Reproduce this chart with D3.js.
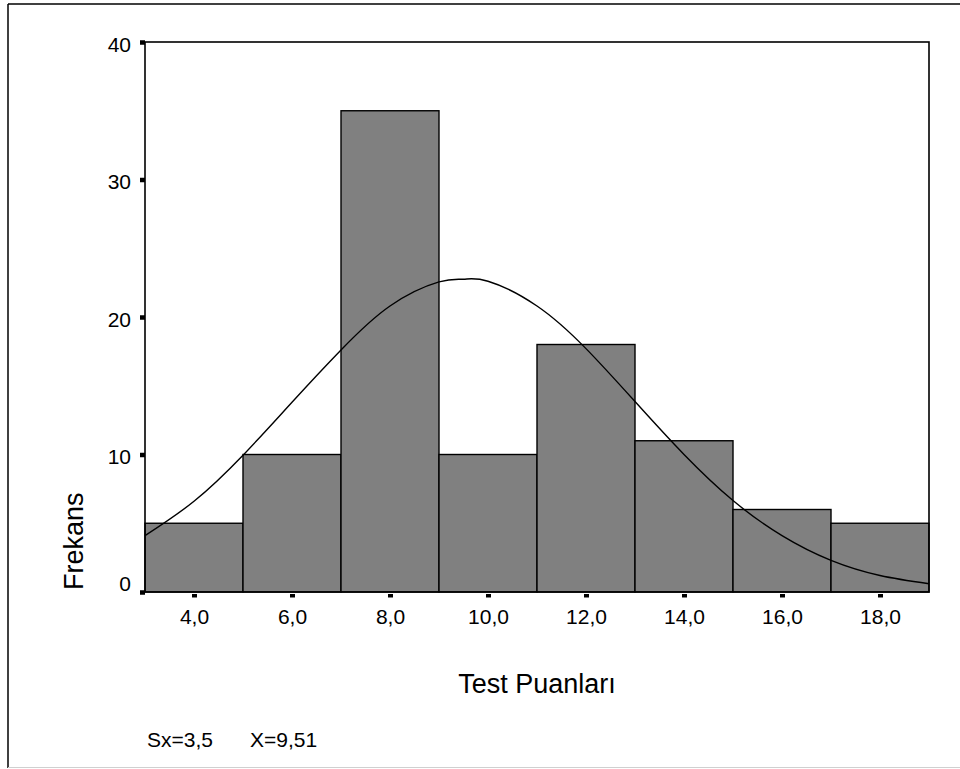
<!DOCTYPE html>
<html>
<head>
<meta charset="utf-8">
<script src="https://cdn.jsdelivr.net/npm/d3@7"></script>
<style>
  body { margin: 0; background: #fff; }
  svg { display: block; font-family: "Liberation Sans", Arial, sans-serif; }
</style>
</head>
<body>
<div id="chart"></div>
<script>
// histogram bins (lower edge) and frequencies
var binStarts = [3, 5, 7, 9, 11, 13, 15, 17];
var binWidth = 2;
var counts = [5, 10, 35, 10, 18, 11, 6, 5];

// fitted normal curve
var curveX = [3, 4, 5, 6, 7, 8, 9, 9.5, 10, 11, 12, 13, 14, 15, 16, 17, 18, 19];
var curveY = [4.1, 6.6, 9.95, 13.8, 17.6, 20.8, 22.55, 22.75, 22.6, 20.8, 17.7, 13.85, 10.0, 6.65, 4.1, 2.3, 1.2, 0.6];

var xTicks = [4, 6, 8, 10, 12, 14, 16, 18];
var yTicks = [0, 10, 20, 30, 40];

var W = 960, H = 769;
var plotLeft = 145, plotRight = 929, plotTop = 42, plotBottom = 592;

var svg = d3.select("#chart").append("svg")
    .attr("width", W)
    .attr("height", H);

// outer border
svg.append("line").attr("x1", 8).attr("x2", W).attr("y1", 4).attr("y2", 4)
    .attr("stroke", "#000").attr("stroke-width", 1.5);
svg.append("line").attr("x1", 8).attr("x2", 8).attr("y1", 4).attr("y2", 768)
    .attr("stroke", "#000").attr("stroke-width", 1.5);
svg.append("line").attr("x1", 8).attr("x2", W).attr("y1", 767.5).attr("y2", 767.5)
    .attr("stroke", "#d0d0d0").attr("stroke-width", 1);

var x = d3.scaleLinear().domain([3, 19]).range([plotLeft, plotRight]);
var y = d3.scaleLinear().domain([0, 40]).range([plotBottom, plotTop]);

var trLocale = d3.formatLocale({decimal: ",", thousands: ".", grouping: [3], currency: ["", ""]});
var fmt1 = trLocale.format(".1f");

// bars
svg.selectAll(".bar")
    .data(binStarts)
  .enter().append("rect")
    .attr("class", "bar")
    .attr("x", function(d) { return x(d); })
    .attr("width", function(d) { return x(d + binWidth) - x(d); })
    .attr("y", function(d, i) { return y(counts[i]); })
    .attr("height", function(d, i) { return y(0) - y(counts[i]); })
    .attr("fill", "#808080")
    .attr("stroke", "#000")
    .attr("stroke-width", 1.4);

// normal curve
var line = d3.line()
    .x(function(d, i) { return x(curveX[i]); })
    .y(function(d) { return y(d); })
    .curve(d3.curveNatural);
svg.append("path")
    .datum(curveY)
    .attr("d", line)
    .attr("fill", "none")
    .attr("stroke", "#000")
    .attr("stroke-width", 1.4);

// plot frame
svg.append("rect")
    .attr("x", plotLeft).attr("y", plotTop)
    .attr("width", plotRight - plotLeft).attr("height", plotBottom - plotTop)
    .attr("fill", "none")
    .attr("stroke", "#000")
    .attr("stroke-width", 1.6);

// x axis
var gx = svg.append("g")
    .attr("transform", "translate(0," + (plotBottom + 2) + ")")
    .call(d3.axisBottom(x).tickValues(xTicks).tickFormat(fmt1).tickSize(3.5).tickPadding(12));
gx.select(".domain").remove();
gx.selectAll(".tick line").attr("stroke", "#000").attr("stroke-width", 5);
gx.selectAll(".tick text").attr("fill", "#000").style("font-size", "21px");

// y axis
var gy = svg.append("g")
    .attr("transform", "translate(" + plotLeft + ",0)")
    .call(d3.axisLeft(y).tickValues(yTicks).tickSize(5).tickPadding(9));
gy.select(".domain").remove();
gy.selectAll(".tick line").attr("stroke", "#000").attr("stroke-width", 4.5);
gy.selectAll(".tick text").attr("fill", "#000").style("font-size", "21px").attr("dy", "0.45em");
gy.selectAll(".tick text").filter(function(d) { return d === 0; }).attr("dy", "-0.08em");

// axis titles
svg.append("text")
    .attr("transform", "translate(82.5,590) rotate(-90)")
    .attr("text-anchor", "start")
    .style("font-size", "27px")
    .text("Frekans");

svg.append("text")
    .attr("x", (plotLeft + plotRight) / 2)
    .attr("y", 693)
    .attr("text-anchor", "middle")
    .style("font-size", "27px")
    .text("Test Puanları");

// statistics
svg.append("text").attr("x", 147).attr("y", 747).style("font-size", "21px").text("Sx=3,5");
svg.append("text").attr("x", 250).attr("y", 747).style("font-size", "21px").text("X=9,51");
</script>
</body>
</html>
